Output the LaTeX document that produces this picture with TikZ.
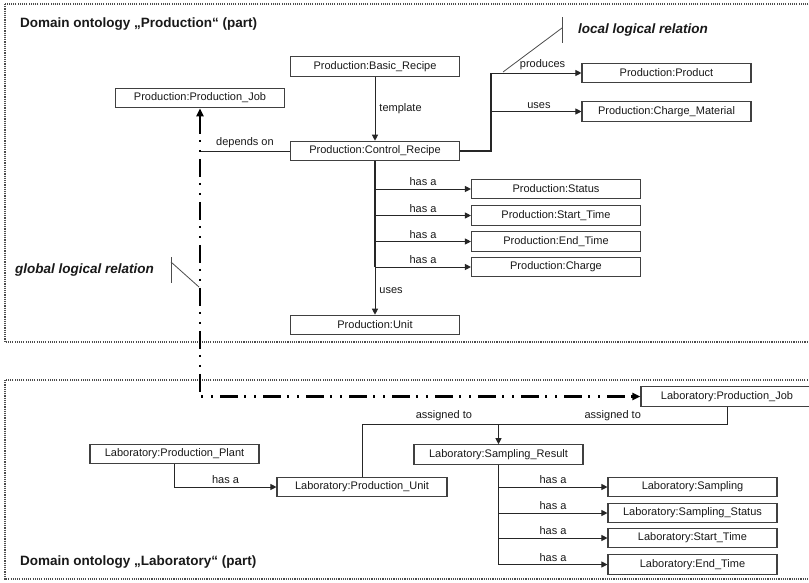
\documentclass[tikz,border=0pt]{standalone}
\usepackage{fontspec}
\setmainfont{Liberation Sans}
\usetikzlibrary{arrows.meta}
\begin{document}
\begin{tikzpicture}[x=1pt,y=-1pt,
  every node/.style={font=\fontsize{11}{13}\selectfont, text=black!90},
  concept/.style={draw=black!75, line width=1.1pt, minimum width=169pt, minimum height=19.5pt, inner sep=0pt, fill=white},
  link/.style={draw=black!85, line width=0.9pt},
  rel/.style={link, -{Triangle[length=6pt,width=6pt]}},
  spine/.style={draw=black!85, line width=1.8pt},
  rlabel/.style={above, inner sep=2.5pt},
  frame/.style={draw=black!70, line width=1.2pt, dash pattern=on 1.1pt off 1.1pt},
  note/.style={draw=black!70, line width=0.8pt},
  notetext/.style={font=\fontsize{13.5}{16}\selectfont\bfseries\itshape, anchor=west, inner sep=0pt},
  title/.style={font=\fontsize{13.5}{16}\selectfont\bfseries, anchor=west, inner sep=0pt},
  global/.style={draw=black, line width=2.5pt, dash pattern=on 18pt off 6pt on 2pt off 8pt on 2pt off 7pt,
    {Triangle[length=8pt,width=7pt]}-{Triangle[length=8pt,width=7pt]}}
]
\clip (0,0) rectangle (809,582);
\fill[white] (0,0) rectangle (809,582);

% ontology frames
\draw[frame] (5,4) rectangle (820,342);
\draw[frame] (5,380) rectangle (820,579);

% ---------------- Production ontology ----------------
\node[title] (ptitle) at (20,24) {Domain ontology „Production“ (part)};

\node[concept] (basic)   at (375,66.5)  {Production:Basic\_Recipe};
\node[concept] (pjob)    at (200,98)    {Production:Production\_Job};
\node[concept] (control) at (375,151)   {Production:Control\_Recipe};
\node[concept] (product) at (666.5,73)  {Production:Product};
\node[concept] (charge)  at (666.5,111.5) {Production:Charge\_Material};
\node[concept] (status)  at (556,189)   {Production:Status};
\node[concept] (start)   at (556,215.5) {Production:Start\_Time};
\node[concept] (end)     at (556,241.5) {Production:End\_Time};
\node[concept] (chg)     at (556,267)   {Production:Charge};
\node[concept] (unit)    at (375,325)   {Production:Unit};

\draw[rel] (basic) -- (control) node[midway, right, inner sep=4pt] {template};
\draw[link] (control.west) -- (pjob.south |- control.west) node[midway, rlabel] {depends on};

\coordinate (trunkend) at (control.south |- chg.west);
\draw[spine] (control.south) -- (trunkend);
\foreach \t in {status,start,end,chg}
  \draw[rel] (control.south |- \t.west) -- (\t.west) node[midway, rlabel] {has a};
\draw[rel] (trunkend) -- (unit.north) node[midway, right, inner sep=4pt] {uses};

\coordinate (fork) at (491,151);
\draw[spine] (control.east) -- (fork) -- (fork |- product.west);
\draw[rel] (fork |- product.west) -- (product.west) node[pos=0.57, rlabel] {produces};
\draw[rel] (fork |- charge.west) -- (charge.west) node[pos=0.53, rlabel] {uses};

% local relation callout
\draw[note] (562,17) -- (562,43);
\draw[note] (562,28) -- (503,72);
\node[notetext] (localnote) at (578,30) {local logical relation};

% global relation callout
\node[notetext] (globalnote) at (15,270) {global logical relation};
\draw[note] (171,257) -- (171,283);
\draw[note] (171,262) -- (199,287);

% ---------------- Laboratory ontology ----------------
\node[title] (ltitle) at (20,562) {Domain ontology „Laboratory“ (part)};

\node[concept, minimum width=172pt] (lpjob) at (727,396.5) {Laboratory:Production\_Job};
\node[concept] (plant)  at (174.5,454)  {Laboratory:Production\_Plant};
\node[concept, minimum width=170pt] (lunit)  at (362,487) {Laboratory:Production\_Unit};
\node[concept] (sres)   at (498.5,454.5) {Laboratory:Sampling\_Result};
\node[concept] (samp)   at (692.5,487)  {Laboratory:Sampling};
\node[concept] (sstat)  at (692.5,513)  {Laboratory:Sampling\_Status};
\node[concept] (lstart) at (692.5,538)  {Laboratory:Start\_Time};
\node[concept] (lend)   at (692.5,564.5) {Laboratory:End\_Time};

\draw[rel] (plant.south) |- (lunit.west) node[pos=0.75, rlabel] {has a};

\coordinate (mergey) at (0,424);
\coordinate (merge) at (sres.north |- mergey);
\draw[link] (lunit.north) |- (merge) node[pos=0.8, rlabel] {assigned to};
\draw[link] (lpjob.south) |- (merge) node[pos=0.75, rlabel] {assigned to};
\draw[rel] (merge) -- (sres.north);

\draw[link] (sres.south) -- (sres.south |- lend.west);
\foreach \t in {samp,sstat,lstart,lend}
  \draw[rel] (sres.south |- \t.west) -- (\t.west) node[midway, rlabel] {has a};

% global logical relation between the two production jobs
\draw[global] (pjob.south) -- (pjob.south |- lpjob.west) -- (lpjob.west);
\end{tikzpicture}
\end{document}
